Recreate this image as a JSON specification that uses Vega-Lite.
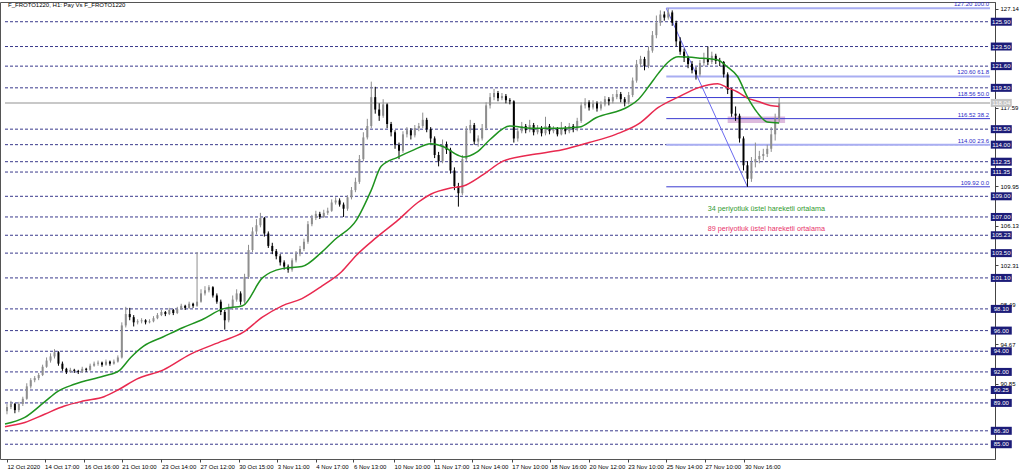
{
"$schema":"https://vega.github.io/schema/vega-lite/v6.json",
"width":995,"height":457,"autosize":"none",
"padding":{"left":0,"top":2,"right":29,"bottom":17},
"background":"white",
"config":{"view":{"stroke":"#555","strokeWidth":1},"font":"Liberation Sans"},
"data":{"values":[{"one":1}]},
"datasets":{
"candles":[
{"i":0.5,"o":88.2,"h":88.9,"l":87.9,"c":88.6},{"i":1.5,"o":88.6,"h":89.2,"l":88.4,"c":88.9},{"i":2.5,"o":88.9,"h":89.0,"l":88.0,"c":88.3},{"i":3.5,"o":88.3,"h":89.1,"l":88.1,"c":88.9},{"i":4.5,"o":88.9,"h":89.6,"l":88.7,"c":89.4},{"i":5.5,"o":89.4,"h":90.9,"l":89.3,"c":90.6},{"i":6.5,"o":90.6,"h":91.4,"l":90.4,"c":91.2},{"i":7.5,"o":91.2,"h":91.6,"l":91.0,"c":91.4},{"i":8.5,"o":91.4,"h":91.9,"l":91.2,"c":91.7},{"i":9.5,"o":91.7,"h":92.7,"l":91.6,"c":92.5},
{"i":10.5,"o":92.5,"h":93.4,"l":92.4,"c":93.1},{"i":11.5,"o":93.1,"h":93.8,"l":92.9,"c":93.5},{"i":12.5,"o":93.5,"h":94.2,"l":93.3,"c":93.9},{"i":13.5,"o":93.9,"h":94.0,"l":92.6,"c":92.8},{"i":14.5,"o":92.8,"h":93.0,"l":92.1,"c":92.3},{"i":15.5,"o":92.3,"h":92.4,"l":91.8,"c":92.0},{"i":16.5,"o":92.0,"h":92.4,"l":91.9,"c":92.2},{"i":17.5,"o":92.2,"h":92.3,"l":91.9,"c":92.1},{"i":18.5,"o":92.1,"h":92.2,"l":91.8,"c":92.0},{"i":19.5,"o":92.0,"h":92.5,"l":91.9,"c":92.3},
{"i":20.5,"o":92.3,"h":92.4,"l":92.0,"c":92.2},{"i":21.5,"o":92.2,"h":92.8,"l":92.1,"c":92.6},{"i":22.5,"o":92.6,"h":93.0,"l":92.5,"c":92.8},{"i":23.5,"o":92.8,"h":93.1,"l":92.6,"c":92.9},{"i":24.5,"o":92.9,"h":93.0,"l":92.5,"c":92.7},{"i":25.5,"o":92.7,"h":93.2,"l":92.6,"c":93.0},{"i":26.5,"o":93.0,"h":93.1,"l":92.6,"c":92.8},{"i":27.5,"o":92.8,"h":93.2,"l":92.7,"c":93.0},{"i":28.5,"o":93.0,"h":93.6,"l":92.9,"c":93.4},{"i":29.5,"o":93.4,"h":96.8,"l":93.3,"c":96.5},
{"i":30.5,"o":96.5,"h":98.3,"l":96.3,"c":97.6},{"i":31.5,"o":97.6,"h":98.2,"l":97.0,"c":97.3},{"i":32.5,"o":97.3,"h":97.5,"l":96.4,"c":96.8},{"i":33.5,"o":96.8,"h":97.1,"l":96.6,"c":96.9},{"i":34.5,"o":96.9,"h":97.2,"l":96.7,"c":97.0},{"i":35.5,"o":97.0,"h":97.1,"l":96.6,"c":96.8},{"i":36.5,"o":96.8,"h":97.1,"l":96.7,"c":96.9},{"i":37.5,"o":96.9,"h":97.4,"l":96.8,"c":97.2},{"i":38.5,"o":97.2,"h":97.7,"l":97.1,"c":97.5},{"i":39.5,"o":97.5,"h":98.0,"l":97.4,"c":97.8},
{"i":40.5,"o":97.8,"h":97.9,"l":97.4,"c":97.6},{"i":41.5,"o":97.6,"h":98.2,"l":97.5,"c":98.0},{"i":42.5,"o":98.0,"h":98.1,"l":97.5,"c":97.7},{"i":43.5,"o":97.7,"h":98.3,"l":97.6,"c":98.1},{"i":44.5,"o":98.1,"h":98.6,"l":98.0,"c":98.4},{"i":45.5,"o":98.4,"h":98.5,"l":98.0,"c":98.2},{"i":46.5,"o":98.2,"h":98.8,"l":98.1,"c":98.6},{"i":47.5,"o":98.6,"h":98.7,"l":98.2,"c":98.4},{"i":48.5,"o":98.4,"h":103.6,"l":98.3,"c":98.8},{"i":49.5,"o":98.8,"h":100.0,"l":98.7,"c":99.6},
{"i":50.5,"o":99.6,"h":100.3,"l":99.4,"c":99.9},{"i":51.5,"o":99.9,"h":100.4,"l":99.7,"c":100.2},{"i":52.5,"o":100.2,"h":100.3,"l":99.2,"c":99.4},{"i":53.5,"o":99.4,"h":99.6,"l":98.6,"c":98.8},{"i":54.5,"o":98.8,"h":99.0,"l":97.5,"c":97.8},{"i":55.5,"o":97.8,"h":98.0,"l":96.1,"c":97.0},{"i":56.5,"o":97.0,"h":98.6,"l":96.8,"c":98.3},{"i":57.5,"o":98.3,"h":99.4,"l":98.0,"c":99.0},{"i":58.5,"o":99.0,"h":100.0,"l":98.8,"c":99.6},{"i":59.5,"o":99.6,"h":99.8,"l":98.5,"c":98.8},
{"i":60.5,"o":98.8,"h":101.5,"l":98.6,"c":101.2},{"i":61.5,"o":101.2,"h":104.3,"l":101.0,"c":103.8},{"i":62.5,"o":103.8,"h":106.0,"l":103.6,"c":105.6},{"i":63.5,"o":105.6,"h":106.8,"l":105.3,"c":106.2},{"i":64.5,"o":106.2,"h":107.4,"l":106.0,"c":106.9},{"i":65.5,"o":106.9,"h":107.0,"l":105.1,"c":105.4},{"i":66.5,"o":105.4,"h":105.6,"l":104.0,"c":104.2},{"i":67.5,"o":104.2,"h":104.5,"l":103.4,"c":103.7},{"i":68.5,"o":103.7,"h":103.9,"l":102.9,"c":103.2},{"i":69.5,"o":103.2,"h":103.4,"l":102.3,"c":102.6},
{"i":70.5,"o":102.6,"h":102.8,"l":101.9,"c":102.2},{"i":71.5,"o":102.2,"h":102.4,"l":101.6,"c":101.9},{"i":72.5,"o":101.9,"h":103.0,"l":101.7,"c":102.8},{"i":73.5,"o":102.8,"h":103.7,"l":102.6,"c":103.4},{"i":74.5,"o":103.4,"h":104.2,"l":103.2,"c":103.9},{"i":75.5,"o":103.9,"h":104.9,"l":103.7,"c":104.6},{"i":76.5,"o":104.6,"h":106.6,"l":104.4,"c":106.3},{"i":77.5,"o":106.3,"h":107.2,"l":106.1,"c":106.9},{"i":78.5,"o":106.9,"h":107.6,"l":106.7,"c":107.3},{"i":79.5,"o":107.3,"h":107.5,"l":106.8,"c":107.0},
{"i":80.5,"o":107.0,"h":107.7,"l":106.9,"c":107.4},{"i":81.5,"o":107.4,"h":107.9,"l":107.2,"c":107.6},{"i":82.5,"o":107.6,"h":108.7,"l":107.5,"c":108.4},{"i":83.5,"o":108.4,"h":108.9,"l":108.2,"c":108.6},{"i":84.5,"o":108.6,"h":108.8,"l":108.0,"c":108.2},{"i":85.5,"o":108.2,"h":108.4,"l":107.0,"c":107.8},{"i":86.5,"o":107.8,"h":109.1,"l":107.6,"c":108.9},{"i":87.5,"o":108.9,"h":109.9,"l":108.7,"c":109.6},{"i":88.5,"o":109.6,"h":110.8,"l":109.4,"c":110.4},{"i":89.5,"o":110.4,"h":113.0,"l":110.2,"c":112.6},
{"i":90.5,"o":112.6,"h":115.2,"l":112.4,"c":114.7},{"i":91.5,"o":114.7,"h":116.5,"l":114.5,"c":115.8},{"i":92.5,"o":115.8,"h":120.1,"l":115.6,"c":118.6},{"i":93.5,"o":118.6,"h":119.6,"l":117.0,"c":117.4},{"i":94.5,"o":117.4,"h":118.0,"l":116.3,"c":116.8},{"i":95.5,"o":116.8,"h":118.4,"l":116.6,"c":117.9},{"i":96.5,"o":117.9,"h":118.0,"l":115.6,"c":116.0},{"i":97.5,"o":116.0,"h":116.2,"l":114.8,"c":115.2},{"i":98.5,"o":115.2,"h":115.4,"l":113.6,"c":114.0},{"i":99.5,"o":114.0,"h":114.2,"l":112.6,"c":113.4},
{"i":100.5,"o":113.4,"h":115.3,"l":113.2,"c":115.0},{"i":101.5,"o":115.0,"h":115.7,"l":114.7,"c":115.4},{"i":102.5,"o":115.4,"h":115.6,"l":114.5,"c":114.9},{"i":103.5,"o":114.9,"h":115.9,"l":114.7,"c":115.6},{"i":104.5,"o":115.6,"h":116.1,"l":115.3,"c":115.8},{"i":105.5,"o":115.8,"h":117.1,"l":115.6,"c":116.4},{"i":106.5,"o":116.4,"h":116.6,"l":115.2,"c":115.5},{"i":107.5,"o":115.5,"h":115.7,"l":114.2,"c":114.6},{"i":108.5,"o":114.6,"h":114.8,"l":112.7,"c":113.0},{"i":109.5,"o":113.0,"h":113.3,"l":111.9,"c":112.4},
{"i":110.5,"o":112.4,"h":114.5,"l":112.2,"c":114.0},{"i":111.5,"o":114.0,"h":114.3,"l":113.1,"c":113.5},{"i":112.5,"o":113.5,"h":113.7,"l":111.2,"c":111.5},{"i":113.5,"o":111.5,"h":111.8,"l":109.6,"c":110.0},{"i":114.5,"o":110.0,"h":110.3,"l":108.0,"c":109.3},{"i":115.5,"o":109.3,"h":113.0,"l":109.1,"c":112.6},{"i":116.5,"o":112.6,"h":115.8,"l":112.4,"c":115.4},{"i":117.5,"o":115.4,"h":116.4,"l":115.1,"c":115.9},{"i":118.5,"o":115.9,"h":116.1,"l":114.0,"c":114.3},{"i":119.5,"o":114.3,"h":114.9,"l":113.8,"c":114.6},
{"i":120.5,"o":114.6,"h":116.0,"l":114.4,"c":115.6},{"i":121.5,"o":115.6,"h":118.1,"l":115.4,"c":117.8},{"i":122.5,"o":117.8,"h":119.0,"l":117.5,"c":118.6},{"i":123.5,"o":118.6,"h":119.4,"l":118.3,"c":119.0},{"i":124.5,"o":119.0,"h":119.2,"l":118.2,"c":118.5},{"i":125.5,"o":118.5,"h":119.0,"l":118.3,"c":118.7},{"i":126.5,"o":118.7,"h":118.9,"l":118.0,"c":118.3},{"i":127.5,"o":118.3,"h":118.5,"l":117.9,"c":118.2},{"i":128.5,"o":118.2,"h":118.3,"l":114.2,"c":114.6},{"i":129.5,"o":114.6,"h":115.6,"l":114.3,"c":115.3},
{"i":130.5,"o":115.3,"h":116.2,"l":115.1,"c":115.8},{"i":131.5,"o":115.8,"h":116.0,"l":115.1,"c":115.4},{"i":132.5,"o":115.4,"h":116.4,"l":115.2,"c":115.9},{"i":133.5,"o":115.9,"h":116.1,"l":114.9,"c":115.2},{"i":134.5,"o":115.2,"h":115.9,"l":115.0,"c":115.6},{"i":135.5,"o":115.6,"h":115.8,"l":114.8,"c":115.1},{"i":136.5,"o":115.1,"h":116.7,"l":114.9,"c":115.8},{"i":137.5,"o":115.8,"h":116.0,"l":115.0,"c":115.3},{"i":138.5,"o":115.3,"h":115.8,"l":115.1,"c":115.5},{"i":139.5,"o":115.5,"h":115.7,"l":114.8,"c":115.0},
{"i":140.5,"o":115.0,"h":116.2,"l":114.9,"c":115.6},{"i":141.5,"o":115.6,"h":115.8,"l":115.0,"c":115.3},{"i":142.5,"o":115.3,"h":116.1,"l":115.1,"c":115.8},{"i":143.5,"o":115.8,"h":116.0,"l":115.2,"c":115.5},{"i":144.5,"o":115.5,"h":116.6,"l":115.3,"c":116.3},{"i":145.5,"o":116.3,"h":118.1,"l":116.1,"c":117.8},{"i":146.5,"o":117.8,"h":118.5,"l":117.5,"c":118.1},{"i":147.5,"o":118.1,"h":118.3,"l":117.3,"c":117.6},{"i":148.5,"o":117.6,"h":118.3,"l":117.4,"c":118.0},{"i":149.5,"o":118.0,"h":118.2,"l":117.2,"c":117.5},
{"i":150.5,"o":117.5,"h":118.2,"l":117.3,"c":117.9},{"i":151.5,"o":117.9,"h":118.7,"l":117.7,"c":118.4},{"i":152.5,"o":118.4,"h":118.6,"l":117.8,"c":118.2},{"i":153.5,"o":118.2,"h":118.9,"l":118.0,"c":118.6},{"i":154.5,"o":118.6,"h":119.3,"l":118.4,"c":118.9},{"i":155.5,"o":118.9,"h":119.1,"l":118.1,"c":118.4},{"i":156.5,"o":118.4,"h":118.6,"l":117.7,"c":118.1},{"i":157.5,"o":118.1,"h":119.1,"l":117.9,"c":118.8},{"i":158.5,"o":118.8,"h":120.5,"l":118.6,"c":120.2},{"i":159.5,"o":120.2,"h":122.2,"l":120.0,"c":121.8},
{"i":160.5,"o":121.8,"h":122.6,"l":121.5,"c":122.3},{"i":161.5,"o":122.3,"h":122.5,"l":121.2,"c":121.6},{"i":162.5,"o":121.6,"h":123.5,"l":121.4,"c":123.1},{"i":163.5,"o":123.1,"h":125.0,"l":122.9,"c":124.6},{"i":164.5,"o":124.6,"h":126.5,"l":124.3,"c":125.8},{"i":165.5,"o":125.8,"h":127.0,"l":125.5,"c":126.6},{"i":166.5,"o":126.6,"h":126.9,"l":126.0,"c":126.3},{"i":167.5,"o":126.3,"h":127.2,"l":126.1,"c":126.8},{"i":168.5,"o":126.8,"h":127.0,"l":125.5,"c":125.8},{"i":169.5,"o":125.8,"h":126.0,"l":123.5,"c":124.0},
{"i":170.5,"o":124.0,"h":124.4,"l":122.7,"c":123.0},{"i":171.5,"o":123.0,"h":123.3,"l":122.0,"c":122.4},{"i":172.5,"o":122.4,"h":122.6,"l":121.4,"c":121.8},{"i":173.5,"o":121.8,"h":122.1,"l":120.9,"c":121.2},{"i":174.5,"o":121.2,"h":121.5,"l":120.3,"c":120.8},{"i":175.5,"o":120.8,"h":122.2,"l":120.6,"c":121.9},{"i":176.5,"o":121.9,"h":122.9,"l":121.6,"c":122.3},{"i":177.5,"o":122.3,"h":123.5,"l":121.7,"c":122.0},{"i":178.5,"o":122.0,"h":123.0,"l":121.8,"c":122.6},{"i":179.5,"o":122.6,"h":122.8,"l":121.8,"c":122.1},
{"i":180.5,"o":122.1,"h":122.4,"l":121.6,"c":122.0},{"i":181.5,"o":122.0,"h":122.1,"l":120.5,"c":120.8},{"i":182.5,"o":120.8,"h":121.0,"l":118.9,"c":119.3},{"i":183.5,"o":119.3,"h":119.5,"l":116.7,"c":117.0},{"i":184.5,"o":117.0,"h":117.7,"l":116.3,"c":116.8},{"i":185.5,"o":116.8,"h":117.0,"l":114.2,"c":114.6},{"i":186.5,"o":114.6,"h":114.8,"l":111.5,"c":112.0},{"i":187.5,"o":112.0,"h":112.4,"l":109.92,"c":110.7},{"i":188.5,"o":110.7,"h":112.8,"l":110.4,"c":112.3},{"i":189.5,"o":112.3,"h":114.2,"l":111.8,"c":112.6},
{"i":190.5,"o":112.6,"h":113.4,"l":112.2,"c":112.9},{"i":191.5,"o":112.9,"h":113.6,"l":112.5,"c":113.1},{"i":192.5,"o":113.1,"h":114.0,"l":112.8,"c":113.6},{"i":193.5,"o":113.6,"h":115.7,"l":113.3,"c":115.0},{"i":194.5,"o":115.0,"h":117.0,"l":114.4,"c":116.5},{"i":195.5,"o":116.5,"h":118.6,"l":116.2,"c":118.04}
],
"e34":[
{"i":0,"v":86.95},{"i":5,"v":87.6},{"i":10,"v":89.1},{"i":13.25,"v":90.1},{"i":17.5,"v":90.8},{"i":25,"v":91.6},{"i":28.75,"v":92.1},{"i":31.75,"v":93.4},{"i":35,"v":94.5},{"i":40,"v":95.4},{"i":45,"v":96.3},{"i":50,"v":97.1},{"i":55,"v":98.1},{"i":60,"v":98.4},{"i":65,"v":101.1},{"i":70,"v":102.0},{"i":75,"v":102.2},{"i":80,"v":103.6},{"i":83.25,"v":104.8},{"i":88.75,"v":106.7},{"i":92.5,"v":109.6},{"i":95,"v":111.9},{"i":99.25,"v":112.8},{"i":103.25,"v":113.5},{"i":107.5,"v":114.1},{"i":110.75,"v":113.8},{"i":114.25,"v":113.0},{"i":115.75,"v":112.8},{"i":119.25,"v":113.3},{"i":122.5,"v":114.5},{"i":127.5,"v":115.8},{"i":132.5,"v":115.6},{"i":140.75,"v":115.6},{"i":145,"v":115.7},{"i":149.25,"v":116.6},{"i":157.5,"v":117.7},{"i":160,"v":118.4},{"i":162.5,"v":119.6},{"i":165,"v":120.9},{"i":167.5,"v":122.0},{"i":170,"v":122.5},{"i":175,"v":122.4},{"i":180,"v":122.2},{"i":182.5,"v":121.5},{"i":185,"v":120.6},{"i":187.5,"v":118.6},{"i":190,"v":117.1},{"i":192.5,"v":116.2},{"i":195.5,"v":116.1}
],
"e89":[
{"i":0,"v":86.7},{"i":5,"v":87.1},{"i":10,"v":87.9},{"i":15,"v":88.7},{"i":20,"v":89.2},{"i":25,"v":89.6},{"i":28.75,"v":90.3},{"i":33.25,"v":91.3},{"i":40,"v":92.2},{"i":46.75,"v":93.7},{"i":55,"v":95.0},{"i":60,"v":95.8},{"i":65,"v":97.3},{"i":70,"v":98.4},{"i":75,"v":99.1},{"i":80,"v":100.3},{"i":85,"v":101.7},{"i":88.75,"v":103.3},{"i":93.75,"v":105.0},{"i":99.25,"v":106.7},{"i":104.25,"v":108.4},{"i":107.5,"v":109.2},{"i":112.5,"v":109.8},{"i":115.75,"v":110.0},{"i":120.75,"v":111.1},{"i":125.75,"v":112.4},{"i":132.5,"v":113.0},{"i":140.75,"v":113.5},{"i":147.5,"v":114.2},{"i":154.25,"v":115.0},{"i":160,"v":116.0},{"i":165,"v":117.6},{"i":170,"v":118.6},{"i":175,"v":119.5},{"i":180,"v":119.9},{"i":182.5,"v":119.5},{"i":185,"v":119.1},{"i":187.5,"v":118.5},{"i":190,"v":118.2},{"i":193.25,"v":117.8},{"i":195.5,"v":117.7}
],
"levels":[{"p":125.90},{"p":123.50},{"p":121.60},{"p":119.50},{"p":115.50},{"p":114.00},{"p":112.35},{"p":111.35},{"p":109.00},{"p":107.00},{"p":105.23},{"p":103.50},{"p":101.10},{"p":98.10},{"p":96.00},{"p":94.00},{"p":92.00},{"p":90.25},{"p":89.00},{"p":86.30},{"p":85.00}],
"fibA":[{"p":127.20},{"p":120.60},{"p":114.00}],
"fibB":[{"p":118.56},{"p":116.52},{"p":109.92}],
"fibLabels":[{"p":127.20,"t":"127.20 100.0"},{"p":120.60,"t":"120.60 61.8"},{"p":118.56,"t":"118.56 50.0"},{"p":116.52,"t":"116.52 38.2"},{"p":114.00,"t":"114.00 23.6"},{"p":109.92,"t":"109.92 0.0"}]
},
"layer":[
{"data":{"name":"levels"},"mark":{"type":"rule","color":"#3a3a8c","strokeWidth":1,"strokeDash":[3,2]},
 "encoding":{
  "x":{"datum":0,"type":"quantitative","scale":{"domain":[0,248.75],"nice":false,"zero":false}},
  "x2":{"datum":248.75},
  "y":{"field":"p","type":"quantitative","scale":{"domain":[83.57,127.81],"nice":false,"zero":false}}
 }},
{"mark":{"type":"rule","color":"#c8c8c8","strokeWidth":2},
 "encoding":{"x":{"datum":0,"type":"quantitative","scale":{"domain":[0,248.75],"nice":false,"zero":false}},"x2":{"datum":248.75},
  "y":{"datum":118.04,"type":"quantitative","scale":{"domain":[83.57,127.81],"nice":false,"zero":false}}}},
{"mark":{"type":"rect","color":"#d9b3d9","opacity":0.9},
 "encoding":{"x":{"datum":182.5,"type":"quantitative","scale":{"domain":[0,248.75],"nice":false,"zero":false}},"x2":{"datum":197},
  "y":{"datum":116.1,"type":"quantitative","scale":{"domain":[83.57,127.81],"nice":false,"zero":false}},"y2":{"datum":116.72}}},
{"data":{"name":"fibA"},"mark":{"type":"rule","color":"#a9aef2","strokeWidth":2},
 "encoding":{"x":{"datum":167,"type":"quantitative","scale":{"domain":[0,248.75],"nice":false,"zero":false}},"x2":{"datum":248.75},
  "y":{"field":"p","type":"quantitative","scale":{"domain":[83.57,127.81],"nice":false,"zero":false}}}},
{"data":{"name":"fibB"},"mark":{"type":"rule","color":"#3b3bd0","strokeWidth":1},
 "encoding":{"x":{"datum":167,"type":"quantitative","scale":{"domain":[0,248.75],"nice":false,"zero":false}},"x2":{"datum":248.75},
  "y":{"field":"p","type":"quantitative","scale":{"domain":[83.57,127.81],"nice":false,"zero":false}}}},
{"mark":{"type":"rule","color":"#6a6af0","strokeWidth":1},
 "encoding":{"x":{"datum":167,"type":"quantitative","scale":{"domain":[0,248.75],"nice":false,"zero":false}},"x2":{"datum":187.5},
  "y":{"datum":127.2,"type":"quantitative","scale":{"domain":[83.57,127.81],"nice":false,"zero":false}},"y2":{"datum":109.92}}},
{"data":{"name":"candles"},"mark":{"type":"rule","strokeWidth":1},
 "encoding":{
  "x":{"field":"i","type":"quantitative","scale":{"domain":[0,248.75],"nice":false,"zero":false},
   "axis":{"orient":"bottom","title":null,"grid":false,"domain":false,"ticks":true,"tickSize":3,"tickColor":"#444","labels":true,"labelFontSize":6,"labelColor":"#000","labelAlign":"left","labelBaseline":"top","labelPadding":1,"labelOverlap":false,"labelBound":false,"labelFlush":false,
    "values":[0.5,10,20,29.5,39.5,49.25,59,68.75,78.5,88,98.25,108.25,118,128,137.75,147.5,157.25,167,176.75,186.75],
    "labelExpr":"['12 Oct 2020','14 Oct 17:00','16 Oct 16:00','21 Oct 10:00','23 Oct 14:00','27 Oct 12:00','30 Oct 15:00','3 Nov 11:00','4 Nov 17:00','6 Nov 13:00','10 Nov 10:00','11 Nov 17:00','13 Nov 14:00','17 Nov 10:00','18 Nov 16:00','20 Nov 12:00','23 Nov 10:00','25 Nov 14:00','27 Nov 10:00','30 Nov 16:00'][indexof([0.5,10,20,29.5,39.5,49.25,59,68.75,78.5,88,98.25,108.25,118,128,137.75,147.5,157.25,167,176.75,186.75], datum.value)]"}},
  "y":{"field":"l","type":"quantitative","scale":{"domain":[83.57,127.81],"nice":false,"zero":false},
   "axis":{"orient":"right","title":null,"grid":false,"domain":true,"domainColor":"#444","ticks":true,"tickSize":3,"tickColor":"#444","labels":true,"labelFontSize":6,"labelColor":"#000","labelAlign":"left","labelBaseline":"middle","labelPadding":2,"labelOverlap":false,"labelBound":false,"labelFlush":false,"format":".2f",
    "values":[127.14,125.23,117.59,111.86,109.95,108.04,106.13,104.22,102.31,100.40,98.49,96.58,94.67,92.76,90.85]}},
  "y2":{"field":"h"},
  "color":{"condition":{"test":"datum.c >= datum.o","value":"#8e8e8e"},"value":"#000000"}}},
{"data":{"name":"candles"},"mark":{"type":"bar","size":2},
 "encoding":{"x":{"field":"i","type":"quantitative","scale":{"domain":[0,248.75],"nice":false,"zero":false}},
  "y":{"field":"o","type":"quantitative","scale":{"domain":[83.57,127.81],"nice":false,"zero":false}},"y2":{"field":"c"},
  "color":{"condition":{"test":"datum.c >= datum.o","value":"#8e8e8e"},"value":"#000000"}}},
{"data":{"name":"e89"},"mark":{"type":"line","color":"#e8294f","strokeWidth":1.5,"interpolate":"monotone"},
 "encoding":{"x":{"field":"i","type":"quantitative","scale":{"domain":[0,248.75],"nice":false,"zero":false}},
  "y":{"field":"v","type":"quantitative","scale":{"domain":[83.57,127.81],"nice":false,"zero":false}}}},
{"data":{"name":"e34"},"mark":{"type":"line","color":"#1f931f","strokeWidth":1.5,"interpolate":"monotone"},
 "encoding":{"x":{"field":"i","type":"quantitative","scale":{"domain":[0,248.75],"nice":false,"zero":false}},
  "y":{"field":"v","type":"quantitative","scale":{"domain":[83.57,127.81],"nice":false,"zero":false}}}},
{"data":{"name":"levels"},"mark":{"type":"tick","orient":"horizontal","color":"#1c1c78","size":21,"thickness":8,"opacity":1,"zindex":2},
 "encoding":{"x":{"datum":251.6,"type":"quantitative","scale":{"domain":[0,248.75],"nice":false,"zero":false}},
  "y":{"field":"p","type":"quantitative","scale":{"domain":[83.57,127.81],"nice":false,"zero":false}}}},
{"data":{"name":"levels"},"mark":{"type":"text","color":"#ffffff","fontSize":6,"align":"center","baseline":"middle","zindex":3},
 "encoding":{"x":{"datum":251.6,"type":"quantitative","scale":{"domain":[0,248.75],"nice":false,"zero":false}},
  "y":{"field":"p","type":"quantitative","scale":{"domain":[83.57,127.81],"nice":false,"zero":false}},
  "text":{"field":"p","type":"quantitative","format":".2f"}}},
{"mark":{"type":"tick","orient":"horizontal","color":"#c4c4c4","size":21,"thickness":8,"opacity":1,"zindex":2},
 "encoding":{"x":{"datum":251.6,"type":"quantitative","scale":{"domain":[0,248.75],"nice":false,"zero":false}},
  "y":{"datum":118.04,"type":"quantitative","scale":{"domain":[83.57,127.81],"nice":false,"zero":false}}}},
{"mark":{"type":"text","color":"#ffffff","fontSize":6,"align":"center","baseline":"middle","text":"118.04","zindex":3},
 "encoding":{"x":{"datum":251.6,"type":"quantitative","scale":{"domain":[0,248.75],"nice":false,"zero":false}},
  "y":{"datum":118.04,"type":"quantitative","scale":{"domain":[83.57,127.81],"nice":false,"zero":false}}}},
{"data":{"name":"fibLabels"},"mark":{"type":"text","color":"#2a2ac8","fontSize":6,"align":"right","baseline":"bottom","dy":-1},
 "encoding":{"x":{"datum":248.5,"type":"quantitative","scale":{"domain":[0,248.75],"nice":false,"zero":false}},
  "y":{"field":"p","type":"quantitative","scale":{"domain":[83.57,127.81],"nice":false,"zero":false}},
  "text":{"field":"t","type":"nominal"}}},
{"mark":{"type":"text","color":"#000000","fontSize":6,"align":"left","baseline":"middle","text":"F_FROTO1220, H1:  Pay Vs F_FROTO1220"},
 "encoding":{"x":{"datum":0.75,"type":"quantitative","scale":{"domain":[0,248.75],"nice":false,"zero":false}},
  "y":{"datum":127.52,"type":"quantitative","scale":{"domain":[83.57,127.81],"nice":false,"zero":false}}}},
{"mark":{"type":"text","color":"#2f9a2f","fontSize":7.2,"align":"left","baseline":"middle","text":"34 periyotluk üstel hareketli ortalama"},
 "encoding":{"x":{"datum":177.5,"type":"quantitative","scale":{"domain":[0,248.75],"nice":false,"zero":false}},
  "y":{"datum":107.77,"type":"quantitative","scale":{"domain":[83.57,127.81],"nice":false,"zero":false}}}},
{"mark":{"type":"text","color":"#e8336b","fontSize":7.2,"align":"left","baseline":"middle","text":"89 periyotluk üstel hareketli ortalama"},
 "encoding":{"x":{"datum":177.5,"type":"quantitative","scale":{"domain":[0,248.75],"nice":false,"zero":false}},
  "y":{"datum":105.83,"type":"quantitative","scale":{"domain":[83.57,127.81],"nice":false,"zero":false}}}}
]
}
